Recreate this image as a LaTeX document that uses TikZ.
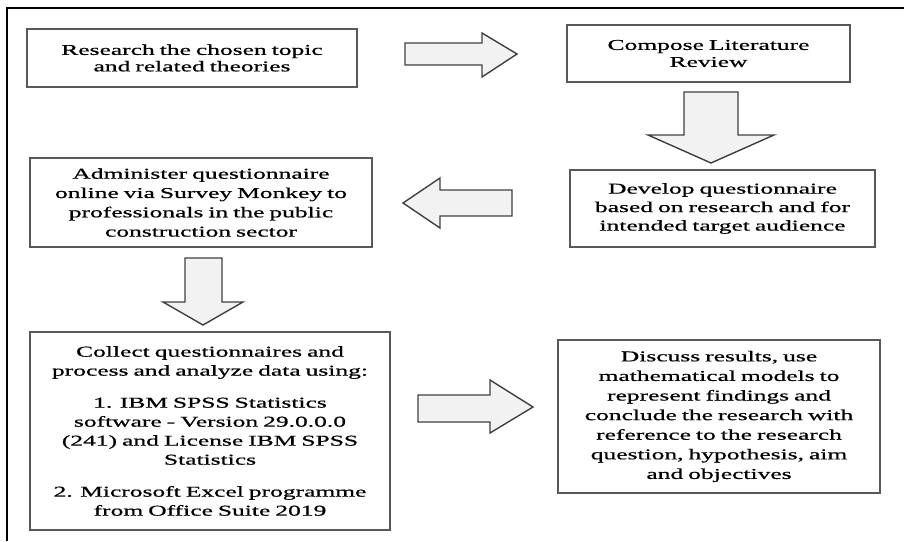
\documentclass[tikz,border=0pt]{standalone}
\usepackage{fontspec}
\setmainfont{Liberation Serif}[FakeStretch=1.7,FakeBold=0.7]
\usetikzlibrary{positioning}

\begin{document}
\begin{tikzpicture}[x=1pt, y=-1pt,
    stepbox/.style={rectangle, draw=black!65, line width=1.3pt, fill=white, align=center, inner sep=0pt},
    blockarrow/.style={draw=black!75, fill=gray!10, line width=1.4pt, line join=miter}]

        \useasboundingbox (0,0) rectangle (904,541);
        \draw[line width=2pt] (7,541) -- (7,8) -- (904,8);

        \node[stepbox, minimum width=330pt, minimum height=58pt, text width=326pt, font=\fontsize{15}{16.5}\selectfont] (research) at (192,58) {Research the chosen topic\\and related theories};
        \node[stepbox, minimum width=283pt, minimum height=57pt, text width=279pt, font=\fontsize{15}{17}\selectfont] (compose) at (708.5,53.5) {Compose Literature\\Review};
        \node[stepbox, minimum width=305pt, minimum height=77pt, text width=301pt, font=\fontsize{15}{18.5}\selectfont] (develop) at (722.5,208.5) {Develop questionnaire\\based on research and for\\intended target audience};
        \node[stepbox, minimum width=342pt, minimum height=89pt, text width=338pt, font=\fontsize{15}{19.3}\selectfont] (administer) at (201,202.5) {Administer questionnaire\\online via Survey Monkey to\\professionals in the public\\construction sector};
        \node[stepbox, minimum width=360pt, minimum height=198pt, text width=356pt, font=\fontsize{15}{19}\selectfont] (collect) at (210,431) {Collect questionnaires and\\process and analyze data using:\\[13pt]1. IBM SPSS Statistics\\software - Version 29.0.0.0\\(241) and License IBM SPSS\\Statistics\\[13pt]2. Microsoft Excel programme\\from Office Suite 2019};
        \node[stepbox, minimum width=322pt, minimum height=153pt, text width=318pt, font=\fontsize{15}{19.6}\selectfont] (discuss) at (719,416.5) {Discuss results, use\\mathematical models to\\represent findings and\\conclude the research with\\reference to the research\\question, hypothesis, aim\\and objectives};

        % block arrows between the steps
        \draw[blockarrow] (405,43) -- (482,43) -- (482,33) -- (517,54) -- (482,77) -- (482,65) -- (405,65) -- cycle;
        \draw[blockarrow] (684,92) -- (738,92) -- (738,135) -- (774,135) -- (711,163) -- (648,135) -- (684,135) -- cycle;
        \draw[blockarrow] (512,190) -- (440,190) -- (440,178) -- (403,203) -- (440,228) -- (440,216) -- (512,216) -- cycle;
        \draw[blockarrow] (185,258) -- (222,258) -- (222,302) -- (243,302) -- (203,325) -- (163,302) -- (185,302) -- cycle;
        \draw[blockarrow] (418,395) -- (490,395) -- (490,380) -- (533,407) -- (490,433) -- (490,422) -- (418,422) -- cycle;

\end{tikzpicture}
\end{document}
